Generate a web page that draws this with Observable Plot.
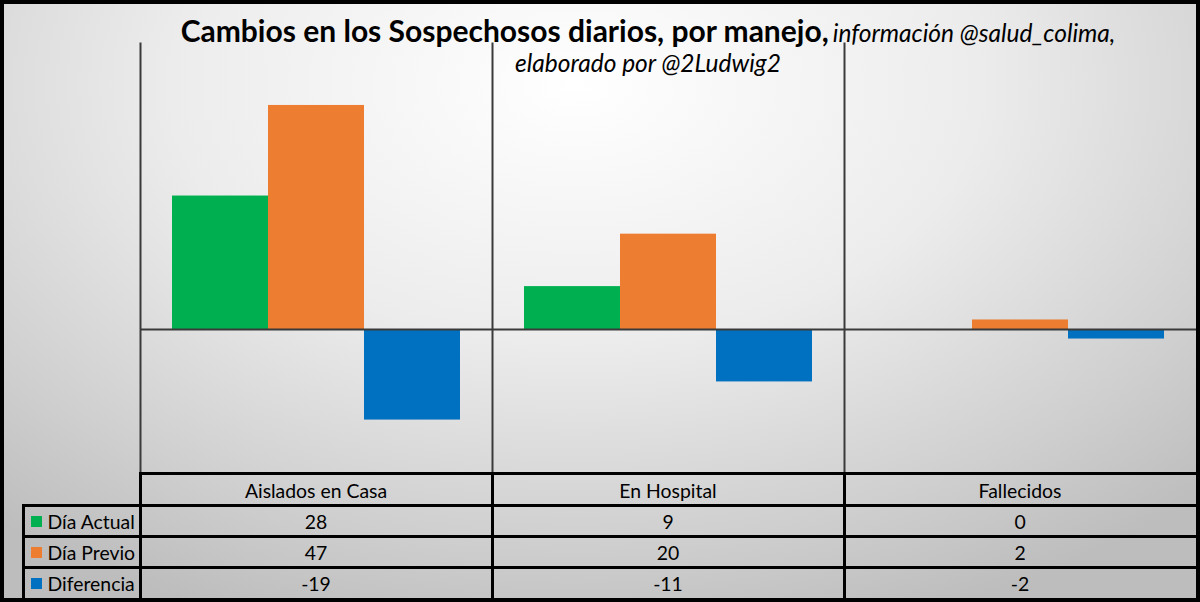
<!DOCTYPE html>
<html>
<head>
<meta charset="utf-8">
<script src="https://cdn.jsdelivr.net/npm/d3@7"></script>
<script src="https://cdn.jsdelivr.net/npm/@observablehq/plot@0.6"></script>
<style>
  html, body { margin: 0; padding: 0; }
  body { width: 1200px; height: 602px; overflow: hidden; font-family: Lato, "Open Sans", sans-serif; }
  #chart {
    position: relative; width: 1200px; height: 602px; overflow: hidden;
    background: radial-gradient(ellipse 75% 95% at 48% 14%, #ffffff 0%, #ececec 45%, #cfcfcf 80%, #bdbdbd 100%);
  }
  #border { position: absolute; left: 0; top: 0; width: 1200px; height: 602px; box-sizing: border-box; border: 4px solid #000; pointer-events: none; }
  #plot { position: absolute; left: 0; top: 0; }
  .title { position: absolute; left: 48px; width: 1200px; text-align: center; white-space: nowrap; color: #000; line-height: 1; }
  #t1 { top: 15px; }
  #t2 { top: 51px; }
  .b { font-weight: 700; font-size: 30px; }
  .i { font-style: italic; font-size: 24.5px; }
  .cell { position: absolute; display: flex; align-items: center; justify-content: center; font-size: 19.4px; color: #000; white-space: nowrap; }
  .cell.lab { justify-content: flex-start; }
  .ln { position: absolute; background: #000; }
  .sw { display: inline-block; width: 10.5px; height: 10.5px; margin: 0 6px 0 8px; }
</style>
</head>
<body>
<div id="chart">
  <div id="plot"></div>
  <div class="title" id="t1"><span class="b">Cambios en los Sospechosos diarios, por manejo,</span> <span class="i">información @salud_colima,</span></div>
  <div class="title" id="t2"><span class="i">elaborado por @2Ludwig2</span></div>
  <div id="tbl"></div>
  <div id="border"></div>
</div>
<script>
const categories = ["Aislados en Casa", "En Hospital", "Fallecidos"];
const series = ["Día Actual", "Día Previo", "Diferencia"];
const diaActual = [28, 9, 0];
const diaPrevio = [47, 20, 2];
const diferencia = [-19, -11, -2];
const colors = ["#00b050", "#ed7d31", "#0070c0"];

const seriesValues = [diaActual, diaPrevio, diferencia];
const data = [];
categories.forEach((c, i) => series.forEach((s, j) => data.push({cat: c, series: s, value: seriesValues[j][i]})));

const chart = Plot.plot({
  width: 1200, height: 474,
  marginLeft: 139, marginRight: 4, marginTop: 43, marginBottom: 2,
  style: {background: "transparent"},
  fx: {domain: categories, padding: 0, axis: null},
  x: {domain: series, paddingInner: 0, paddingOuter: 0.333, axis: null},
  y: {domain: [-30, 60], axis: null},
  color: {domain: series, range: colors},
  marks: [
    Plot.barY(data, {fx: "cat", x: "series", y: "value", fill: "series"}),
    Plot.ruleY([0], {stroke: "#3a3a3a", strokeWidth: 2}),
    Plot.frame({anchor: "left", stroke: "#3a3a3a", strokeWidth: 2})
  ]
});
document.getElementById("plot").appendChild(chart);

// data table below the plot, columns aligned with the facet scale
const fx = chart.scale("fx");
const colX = categories.map(c => fx.apply(c));
const bw = fx.bandwidth;
const tbl = document.getElementById("tbl");
const legendLeft = 23, tableRight = 1196;
const rowY = [473, 505, 536, 567, 598];
function line(x, y, w, h) {
  const d = document.createElement("div");
  d.className = "ln";
  Object.assign(d.style, {left: x + "px", top: y + "px", width: w + "px", height: h + "px"});
  tbl.appendChild(d);
}
function cell(x, y, w, h, content, cls) {
  const d = document.createElement("div");
  d.className = "cell" + (cls ? " " + cls : "");
  Object.assign(d.style, {left: x + "px", top: y + "px", width: w + "px", height: h + "px"});
  if (typeof content === "string") d.textContent = content; else d.appendChild(content);
  tbl.appendChild(d);
}
// header
categories.forEach((c, i) => cell(colX[i], rowY[0] + 1, bw, rowY[1] - rowY[0], c));
// rows
series.forEach((s, j) => {
  const y0 = rowY[j + 1], h = rowY[j + 2] - y0;
  const frag = document.createElement("span");
  frag.style.display = "flex"; frag.style.alignItems = "center";
  frag.innerHTML = `<span class="sw" style="background:${colors[j]}"></span>`;
  frag.appendChild(document.createTextNode(s));
  cell(legendLeft, y0 + 1, colX[0] - legendLeft, h, frag, "lab");
  seriesValues[j].forEach((v, i) => cell(colX[i], y0 + 1, bw, h, String(v)));
});
// grid lines
line(colX[0] - 1.5, rowY[0] - 1.5, tableRight - colX[0] + 1.5, 3);
for (let k = 1; k < 4; k++) line(legendLeft - 1.5, rowY[k] - 1.5, tableRight - legendLeft + 1.5, 3);
line(legendLeft - 1.5, rowY[1] - 1.5, 3, rowY[4] - rowY[1] + 1.5);
colX.forEach(x => line(x - 1.5, rowY[0] - 1.5, 3, rowY[4] - rowY[0] + 1.5));
</script>
</body>
</html>
